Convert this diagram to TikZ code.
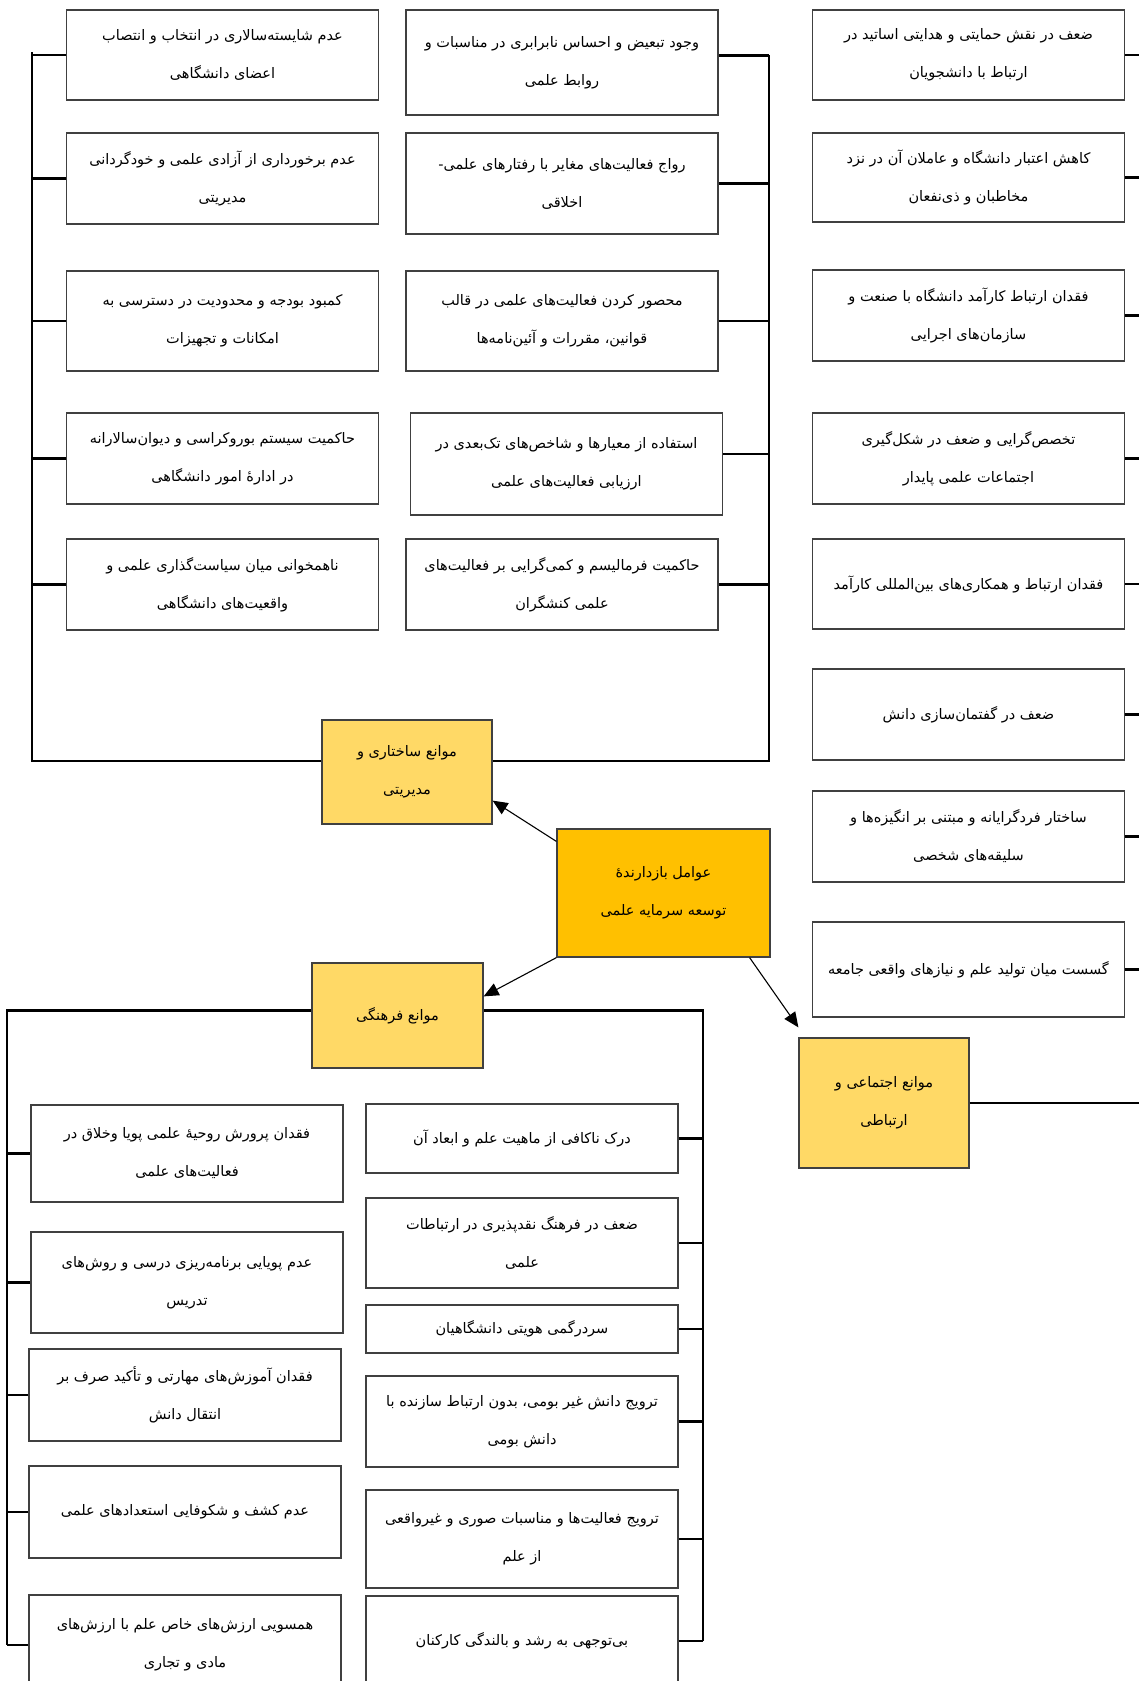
\documentclass[tikz,border=0pt]{standalone}
\usepackage{fontspec}
\usetikzlibrary{arrows.meta}
\TeXXeTstate=1
\newfontfamily\persianfont[Script=Arabic]{DejaVu Sans}
\newcommand{\rtltext}[1]{\beginR #1\endR}
\definecolor{boxline}{HTML}{404040}
\definecolor{lightgold}{HTML}{FFD966}
\definecolor{deepgold}{HTML}{FFC000}
\tikzset{
  item/.style={draw=boxline, line width=1.2pt, fill=white, align=center,
    inner sep=0pt, minimum width=312,
    font=\persianfont\fontsize{14.5}{38}\selectfont},
  group/.style={item, fill=lightgold, minimum width=170},
  root/.style={item, fill=deepgold},
  link/.style={line width=2.4pt},
  push/.style={line width=1.1pt, -{Triangle[length=15pt,width=13pt]}}
}
\begin{document}
\begin{tikzpicture}[x=1pt,y=-1pt]
  \useasboundingbox (0,0) rectangle (1139,1681);
  \clip (0,0) rectangle (1139,1681);
  % structural and managerial
  \node[item, minimum height=90]  (s1) at (222.5,55)    {\rtltext{عدم شایسته‌سالاری در انتخاب و انتصاب}\\\rtltext{اعضای دانشگاهی}};
  \node[item, minimum height=91]  (s2) at (222.5,178.5) {\rtltext{عدم برخورداری از آزادی علمی و خودگردانی}\\\rtltext{مدیریتی}};
  \node[item, minimum height=100] (s3) at (222.5,321)   {\rtltext{کمبود بودجه و محدودیت در دسترسی به}\\\rtltext{امکانات و تجهیزات}};
  \node[item, minimum height=91]  (s4) at (222.5,458.5) {\rtltext{حاکمیت سیستم بوروکراسی و دیوان‌سالارانه}\\\rtltext{در ادارهٔ امور دانشگاهی}};
  \node[item, minimum height=91]  (s5) at (222.5,584.5) {\rtltext{ناهمخوانی میان سیاست‌گذاری علمی و}\\\rtltext{واقعیت‌های دانشگاهی}};
  \node[item, minimum height=105] (m1) at (562,62.5)    {\rtltext{وجود تبعیض و احساس نابرابری در مناسبات و}\\\rtltext{روابط علمی}};
  \node[item, minimum height=101] (m2) at (562,183.5)   {\rtltext{رواج فعالیت‌های مغایر با رفتارهای علمی\hbox{-}}\\\rtltext{اخلاقی}};
  \node[item, minimum height=100] (m3) at (562,321)     {\rtltext{محصور کردن فعالیت‌های علمی در قالب}\\\rtltext{قوانین، مقررات و آئین‌نامه‌ها}};
  \node[item, minimum height=102] (m4) at (566.5,464)   {\rtltext{استفاده از معیارها و شاخص‌های تک‌بعدی در}\\\rtltext{ارزیابی فعالیت‌های علمی}};
  \node[item, minimum height=91]  (m5) at (562,584.5)   {\rtltext{حاکمیت فرمالیسم و کمی‌گرایی بر فعالیت‌های}\\\rtltext{علمی کنشگران}};
  \node[group, minimum height=104] (ys) at (407,772)    {\rtltext{موانع ساختاری و}\\\rtltext{مدیریتی}};
  % centre
  \node[root, minimum width=213, minimum height=128] (root) at (663.5,893) {\rtltext{عوامل بازدارندهٔ}\\\rtltext{توسعه سرمایه علمی}};
  % social and communicative
  \node[item, minimum height=90]  (r1) at (968.5,55)    {\rtltext{ضعف در نقش حمایتی و هدایتی اساتید در}\\\rtltext{ارتباط با دانشجویان}};
  \node[item, minimum height=89]  (r2) at (968.5,177.5) {\rtltext{کاهش اعتبار دانشگاه و عاملان آن در نزد}\\\rtltext{مخاطبان و ذی‌نفعان}};
  \node[item, minimum height=91]  (r3) at (968.5,315.5) {\rtltext{فقدان ارتباط کارآمد دانشگاه با صنعت و}\\\rtltext{سازمان‌های اجرایی}};
  \node[item, minimum height=91]  (r4) at (968.5,458.5) {\rtltext{تخصص‌گرایی و ضعف در شکل‌گیری}\\\rtltext{اجتماعات علمی پایدار}};
  \node[item, minimum height=90]  (r5) at (968.5,584)   {\rtltext{فقدان ارتباط و همکاری‌های بین‌المللی کارآمد}};
  \node[item, minimum height=91]  (r6) at (968.5,714.5) {\rtltext{ضعف در گفتمان‌سازی دانش}};
  \node[item, minimum height=91]  (r7) at (968.5,836.5) {\rtltext{ساختار فردگرایانه و مبتنی بر انگیزه‌ها و}\\\rtltext{سلیقه‌های شخصی}};
  \node[item, minimum height=95]  (r8) at (968.5,969.5) {\rtltext{گسست میان تولید علم و نیازهای واقعی جامعه}};
  \node[group, minimum height=130] (yo) at (884,1103)   {\rtltext{موانع اجتماعی و}\\\rtltext{ارتباطی}};
  % cultural
  \node[group, minimum width=171, minimum height=105] (yc) at (397.5,1015.5) {\rtltext{موانع فرهنگی}};
  \node[item, minimum height=97]  (c1) at (187,1153.5)  {\rtltext{فقدان پرورش روحیهٔ علمی پویا وخلاق در}\\\rtltext{فعالیت‌های علمی}};
  \node[item, minimum height=101] (c2) at (187,1282.5)  {\rtltext{عدم پویایی برنامه‌ریزی درسی و روش‌های}\\\rtltext{تدریس}};
  \node[item, minimum height=92]  (c3) at (185,1395)    {\rtltext{فقدان آموزش‌های مهارتی و تأکید صرف بر}\\\rtltext{انتقال دانش}};
  \node[item, minimum height=92]  (c4) at (185,1512)    {\rtltext{عدم کشف و شکوفایی استعدادهای علمی}};
  \node[item, minimum height=100] (c5) at (185,1645)    {\rtltext{همسویی ارزش‌های خاص علم با ارزش‌های}\\\rtltext{مادی و تجاری}};
  \node[item, minimum height=69]  (d1) at (522,1138.5)  {\rtltext{درک ناکافی از ماهیت علم و ابعاد آن}};
  \node[item, minimum height=90]  (d2) at (522,1243)    {\rtltext{ضعف در فرهنگ نقدپذیری در ارتباطات}\\\rtltext{علمی}};
  \node[item, minimum height=48]  (d3) at (522,1329)    {\rtltext{سردرگمی هویتی دانشگاهیان}};
  \node[item, minimum height=91]  (d4) at (522,1421.5)  {\rtltext{ترویج دانش غیر بومی، بدون ارتباط سازنده با}\\\rtltext{دانش بومی}};
  \node[item, minimum height=98]  (d5) at (522,1539)    {\rtltext{ترویج فعالیت‌ها و مناسبات صوری و غیرواقعی}\\\rtltext{از علم}};
  \node[item, minimum height=90]  (d6) at (522,1641)    {\rtltext{بی‌توجهی به رشد و بالندگی کارکنان}};
  % trunk ends
  \coordinate (sl) at (32,52);
  \coordinate (sr) at (769,55);
  \coordinate (rt) at (1145,0);
  \coordinate (cl) at (7,1645);
  \coordinate (cr) at (703,1641);
  \begin{scope}[link]
    \draw ([yshift=11pt]ys.west) -| (sl);
    \draw ([yshift=11pt]ys.east) -| (sr);
    \draw (s1.west) -- (s1.west -| sl);
    \draw (s2.west) -- (s2.west -| sl);
    \draw (s3.west) -- (s3.west -| sl);
    \draw (s4.west) -- (s4.west -| sl);
    \draw (s5.west) -- (s5.west -| sl);
    \draw ([yshift=7pt]m1.east) -- ([yshift=7pt]m1.east -| sr);
    \draw (m2.east) -- (m2.east -| sr);
    \draw (m3.east) -- (m3.east -| sr);
    \draw ([yshift=10pt]m4.east) -- ([yshift=10pt]m4.east -| sr);
    \draw (m5.east) -- (m5.east -| sr);
    \draw (r1.east) -- (r1.east -| rt);
    \draw (r2.east) -- (r2.east -| rt);
    \draw (r3.east) -- (r3.east -| rt);
    \draw (r4.east) -- (r4.east -| rt);
    \draw (r5.east) -- (r5.east -| rt);
    \draw (r6.east) -- (r6.east -| rt);
    \draw (r7.east) -- (r7.east -| rt);
    \draw (r8.east) -- (r8.east -| rt);
    \draw (yo.east) -- (yo.east -| rt);
    \draw ([yshift=5pt]yc.west) -| (cl);
    \draw ([yshift=5pt]yc.east) -| (cr);
    \draw (c1.west) -- (c1.west -| cl);
    \draw (c2.west) -- (c2.west -| cl);
    \draw (c3.west) -- (c3.west -| cl);
    \draw (c4.west) -- (c4.west -| cl);
    \draw (c5.west) -- (c5.west -| cl);
    \draw (d1.east) -- (d1.east -| cr);
    \draw (d2.east) -- (d2.east -| cr);
    \draw (d3.east) -- (d3.east -| cr);
    \draw (d4.east) -- (d4.east -| cr);
    \draw (d5.east) -- (d5.east -| cr);
    \draw (d6.east) -- (d6.east -| cr);
  \end{scope}
  \begin{scope}[push]
    \draw ([yshift=-13pt]root.north west) -- ([yshift=24pt]ys.south east);
    \draw (root.south west) -- ([yshift=-34pt]yc.north east);
    \draw ([xshift=-21pt]root.south east) -- ([yshift=10pt]yo.north west);
  \end{scope}
\end{tikzpicture}
\end{document}
